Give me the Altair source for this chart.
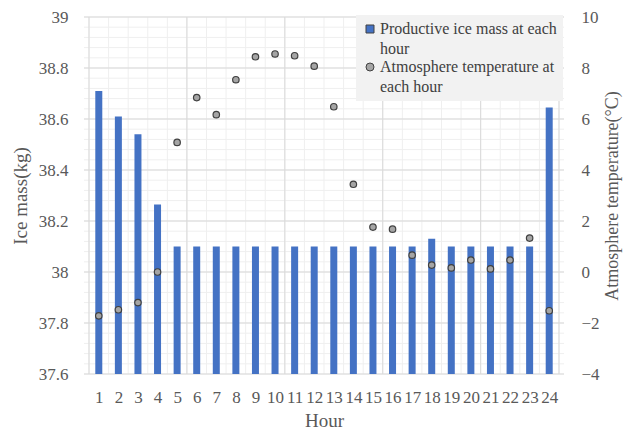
import altair as alt
import pandas as pd

hours = list(range(1, 25))
ice_mass = [38.71, 38.61, 38.54, 38.265, 38.1, 38.1, 38.1, 38.1, 38.1, 38.1, 38.1, 38.1,
            38.1, 38.1, 38.1, 38.1, 38.1, 38.13, 38.1, 38.1, 38.1, 38.1, 38.1, 38.645]
temperature = [-1.72, -1.48, -1.2, 0.0, 5.08, 6.84, 6.17, 7.54, 8.44, 8.55, 8.48, 8.07,
               6.48, 3.44, 1.76, 1.68, 0.66, 0.27, 0.16, 0.47, 0.12, 0.47, 1.33, -1.52]

series_names = ["Productive ice mass at each hour", "Atmosphere temperature at each hour"]
left_ticks = [37.6, 37.8, 38.0, 38.2, 38.4, 38.6, 38.8, 39.0]
right_ticks = [-4, -2, 0, 2, 4, 6, 8, 10]

# gridline positions
minor_h = [round(37.6 + 0.04 * i, 2) for i in range(36)]
minor_v = [i + 0.5 for i in range(25)]
major_v = [0.5, 5.5, 10.5, 15.5, 20.5, 24.5]

FONT = "Liberation Serif"
LABEL_COLOR = "#595959"

bars_df = pd.DataFrame({"hour": hours, "mass": ice_mass, "series": series_names[0]})
pts_df = pd.DataFrame({"hour": hours, "temp": temperature, "series": series_names[1]})

x_scale = alt.Scale(domain=[0.5, 24.5], nice=False, zero=False)
x_axis = alt.Axis(values=hours, format="d", title="Hour", grid=False, ticks=False,
                  domain=False, labelPadding=15, titlePadding=6, labelFlush=False)
yl_scale = alt.Scale(domain=[37.6, 39], nice=False, zero=False)
yl_axis = alt.Axis(values=left_ticks, format="~g", title="Ice mass(kg)", grid=False,
                   ticks=False, domain=False, labelPadding=16, titlePadding=8)
yr_scale = alt.Scale(domain=[-4, 10], nice=False, zero=False)
yr_axis = alt.Axis(values=right_ticks, format="d", title="Atmosphere temperature(°C)",
                   orient="right", grid=False, ticks=False, domain=False,
                   labelPadding=17, titlePadding=4, titleAngle=270, titleBaseline="top",
                   titleFontSize=18)

color_scale = alt.Scale(domain=series_names, range=["#4472C4", "#A5A5A5"])
shape_scale = alt.Scale(domain=series_names, range=["square", "circle"])

legend = alt.Legend(
    title=None, orient="none", legendX=272, legendY=-2, fillColor="#f2f2f2",
    padding=6, labelFont=FONT, labelFontSize=16, labelColor="#404040", labelLimit=400,
    labelOffset=2, symbolSize=64, symbolStrokeWidth=1, rowPadding=2, direction="vertical",
    labelExpr="datum.label == 'Productive ice mass at each hour' ? ['Productive ice mass at each', 'hour'] : ['Atmosphere temperature at', 'each hour']",
)

h_minor = alt.Chart(pd.DataFrame({"gy": minor_h})).mark_rule(color="#efefef", strokeWidth=1).encode(
    y=alt.Y("gy:Q", scale=yl_scale, axis=yl_axis))
h_major = alt.Chart(pd.DataFrame({"gy": left_ticks})).mark_rule(color="#d9d9d9", strokeWidth=1).encode(
    y=alt.Y("gy:Q", scale=yl_scale, axis=yl_axis))
v_minor = alt.Chart(pd.DataFrame({"gx": minor_v})).mark_rule(color="#efefef", strokeWidth=1).encode(
    x=alt.X("gx:Q", scale=x_scale, axis=x_axis))
v_major = alt.Chart(pd.DataFrame({"gx": major_v})).mark_rule(color="#d9d9d9", strokeWidth=1).encode(
    x=alt.X("gx:Q", scale=x_scale, axis=x_axis))

bars = alt.Chart(bars_df).mark_bar(size=7, clip=True).encode(
    x=alt.X("hour:Q", scale=x_scale, axis=x_axis),
    y=alt.Y("mass:Q", scale=yl_scale, axis=yl_axis),
    color=alt.Color("series:N", scale=color_scale, legend=legend),
)

points = alt.Chart(pts_df).mark_point(filled=True, size=42, stroke="#404040",
                                       strokeWidth=1.2, opacity=1).encode(
    x=alt.X("hour:Q", scale=x_scale, axis=x_axis),
    y=alt.Y("temp:Q", scale=yr_scale, axis=yr_axis),
    color=alt.Color("series:N", scale=color_scale, legend=legend),
    shape=alt.Shape("series:N", scale=shape_scale, legend=legend),
)

left = alt.layer(h_minor, v_minor, h_major, v_major, bars)

chart = alt.layer(left, points).resolve_scale(y="independent").properties(
    width=480, height=357,
    autosize=alt.AutoSizeParams(type="none"),
    padding={"left": 76, "top": 9, "right": 60, "bottom": 57},
).configure(
    background="white",
    style={"guide-label": {"lineHeight": 20}},
).configure_view(stroke=None).configure_axis(
    labelFont=FONT, labelFontSize=17, labelColor=LABEL_COLOR,
    titleFont=FONT, titleFontSize=19, titleFontWeight="normal", titleColor=LABEL_COLOR,
)

chart.save("out.html", embed_options={"renderer": "svg", "actions": False})
